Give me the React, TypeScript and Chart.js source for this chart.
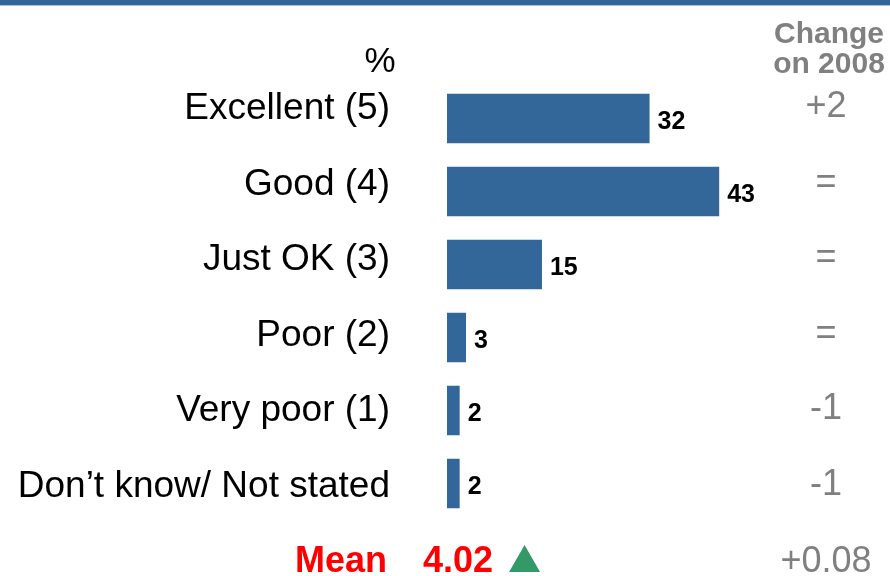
import React, { useEffect, useRef } from "react";
import { Chart, registerables } from "chart.js";

Chart.register(...registerables);

const categories = [
  "Excellent (5)",
  "Good (4)",
  "Just OK (3)",
  "Poor (2)",
  "Very poor (1)",
  "Don\u2019t know/ Not stated",
];
const values = [32, 43, 15, 3, 2, 2];
const changes = ["+2", "=", "=", "=", "-1", "-1"];
const meanLabel = "Mean";
const meanValue = "4.02";
const meanChange = "+0.08";
const unitLabel = "%";
const changeHeader = ["Change", "on 2008"];

const FONT = '"Liberation Sans", Arial, Helvetica, sans-serif';
const BAR_COLOR = "#336699";
const GRAY = "#808080";

const overlayPlugin = {
  id: "overlay",
  afterDatasetsDraw(chart: any) {
    const ctx = chart.ctx;
    const yBar = chart.scales.y;
    const xs = chart.scales.x;
    const yText = chart.scales.yText;
    ctx.save();

    // top band
    ctx.fillStyle = BAR_COLOR;
    ctx.fillRect(0, 0, chart.width, 5);
    ctx.fillStyle = "#a9c4e0";
    ctx.fillRect(0, 5, chart.width, 1);

    // value labels
    ctx.fillStyle = "#000";
    ctx.font = `bold 25px ${FONT}`;
    ctx.textAlign = "left";
    ctx.textBaseline = "alphabetic";
    values.forEach((v, i) => {
      const x = xs.getPixelForValue(v) + 8;
      const y = yBar.getPixelForValue(i) + 10;
      ctx.fillText(String(v), x, y);
    });

    // category labels
    ctx.font = `37px ${FONT}`;
    ctx.textAlign = "right";
    categories.forEach((c, i) => {
      ctx.fillText(c, 390, yText.getPixelForValue(i));
    });

    // % label
    ctx.font = `35px ${FONT}`;
    ctx.textAlign = "center";
    ctx.fillText(unitLabel, 380, 72);

    // change header
    ctx.fillStyle = GRAY;
    ctx.font = `bold 30px ${FONT}`;
    ctx.textAlign = "center";
    ctx.fillText(changeHeader[0], 829, 43);
    ctx.fillText(changeHeader[1], 829, 73);

    // change values
    ctx.font = `36px ${FONT}`;
    changes.forEach((c, i) => {
      ctx.fillText(c, 826, yText.getPixelForValue(i) - 2);
    });
    const meanY = yText.getPixelForValue(categories.length);
    ctx.fillText(meanChange, 826, meanY);

    // mean row
    ctx.fillStyle = "#ff0000";
    ctx.font = `bold 36px ${FONT}`;
    ctx.textAlign = "right";
    ctx.fillText(meanLabel, 387, meanY);
    ctx.textAlign = "left";
    ctx.fillText(meanValue, 423, meanY);
    const w = ctx.measureText(meanValue).width;
    const tx = 423 + w + 16;
    ctx.fillStyle = "#339966";
    ctx.beginPath();
    ctx.moveTo(tx, meanY);
    ctx.lineTo(tx + 31, meanY);
    ctx.lineTo(tx + 15.5, meanY - 27);
    ctx.closePath();
    ctx.fill();

    ctx.restore();
  },
};

export default function App() {
  const ref = useRef<HTMLCanvasElement | null>(null);
  useEffect(() => {
    if (!ref.current) return;
    const chart = new Chart(ref.current, {
      type: "bar",
      data: {
        labels: categories,
        datasets: [
          {
            data: values,
            backgroundColor: BAR_COLOR,
            borderWidth: 0,
            barPercentage: 0.68,
            categoryPercentage: 1,
          },
        ],
      },
      options: {
        indexAxis: "y",
        animation: false,
        responsive: false,
        layout: { padding: { left: 447, right: 126.5, top: 82, bottom: 56 } },
        plugins: { legend: { display: false }, tooltip: { enabled: false } },
        scales: {
          x: { min: 0, max: 50, display: false },
          y: { display: false },
          yText: {
            type: "linear",
            axis: "y",
            display: false,
            reverse: true,
            offset: false,
            grace: 0,
            min: -0.49,
            max: 5.31,
          },
        },
      } as any,
      plugins: [overlayPlugin],
    });
    return () => chart.destroy();
  }, []);
  return (
    <div style={{ position: "fixed", left: 0, top: 0, width: 890, height: 576, background: "#fff" }}>
      <canvas ref={ref} width={890} height={576} />
    </div>
  );
}
